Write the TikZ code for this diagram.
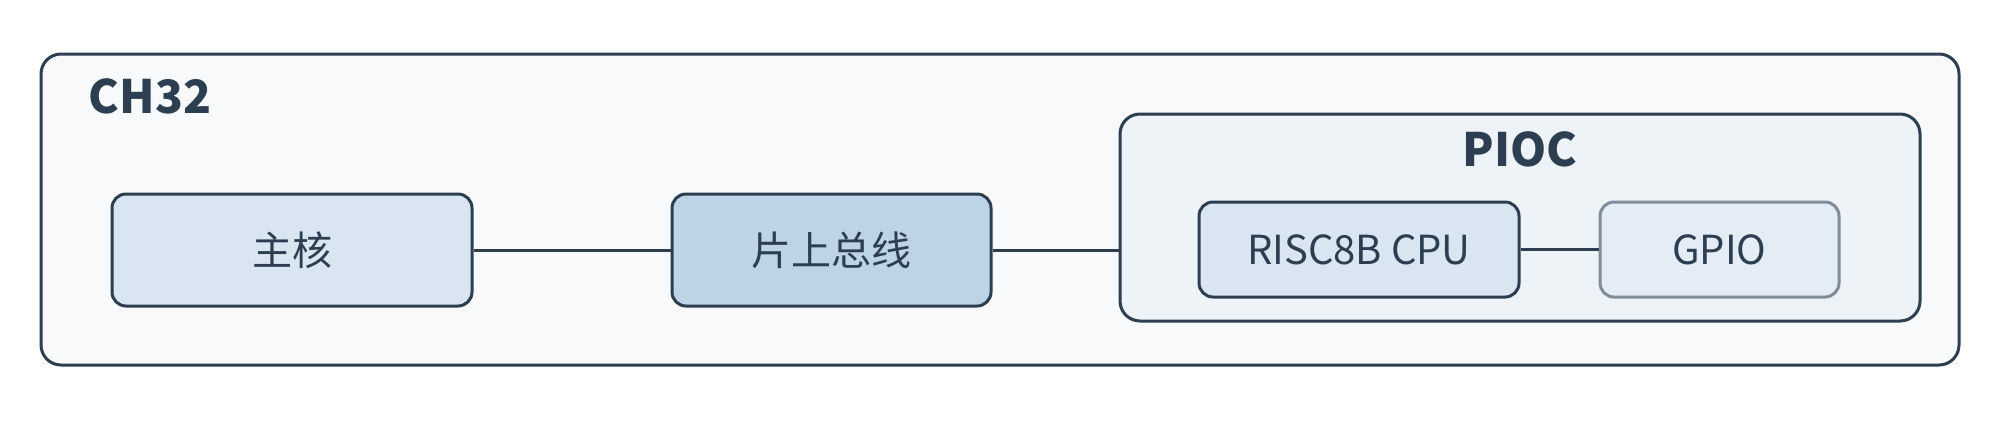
\documentclass[tikz,border=0pt]{standalone}
\usepackage{fontspec}
\setmainfont{Noto Sans CJK SC}
\definecolor{ln}{HTML}{2C3E50}
\definecolor{outerf}{HTML}{F7F9FB}
\definecolor{piocf}{HTML}{EEF3F8}
\definecolor{boxa}{HTML}{D9E5F0}
\definecolor{boxb}{HTML}{BDD3E6}
\definecolor{boxc}{HTML}{E4EDF5}
\definecolor{gl}{HTML}{7F8C99}
\begin{document}
\begin{tikzpicture}[x=0.5pt,y=-0.5pt,
  blk/.style={draw=ln,line width=1.5pt,rounded corners=7pt,text=ln,font=\fontsize{20}{24}\selectfont},
  grp/.style={draw=ln,line width=1.5pt,rounded corners=10pt},
  ttl/.style={text=ln,font=\bfseries\fontsize{23}{27}\selectfont},
  wire/.style={draw=ln,line width=1.5pt}]
\useasboundingbox (0,0) rectangle (2000,420);
\draw[grp,fill=outerf] (41,54) rectangle (1959,365);
\node[ttl] (ch) at (150,96) {CH32};
\draw[grp,fill=piocf] (1120,114) rectangle (1920,321);
\node[ttl] (pt) at (1520,149) {PIOC};
\node[blk,fill=boxa,minimum width=180pt,minimum height=56pt] (core) at (292,250) {主核};
\node[blk,fill=boxb,minimum width=159.5pt,minimum height=56pt] (bus) at (831.5,250) {片上总线};
\node[blk,fill=boxa,minimum width=160pt,minimum height=47.5pt] (cpu) at (1359,249.5) {RISC8B CPU};
\node[blk,draw=gl,fill=boxc,minimum width=119.5pt,minimum height=47.5pt] (gpio) at (1719.5,249.5) {GPIO};
\coordinate (pl) at (1120,250);
\draw[wire] (core.east) -- (bus.west);
\draw[wire] (bus.east) -- (pl);
\draw[wire] (cpu.east) -- (gpio.west);
\end{tikzpicture}
\end{document}
